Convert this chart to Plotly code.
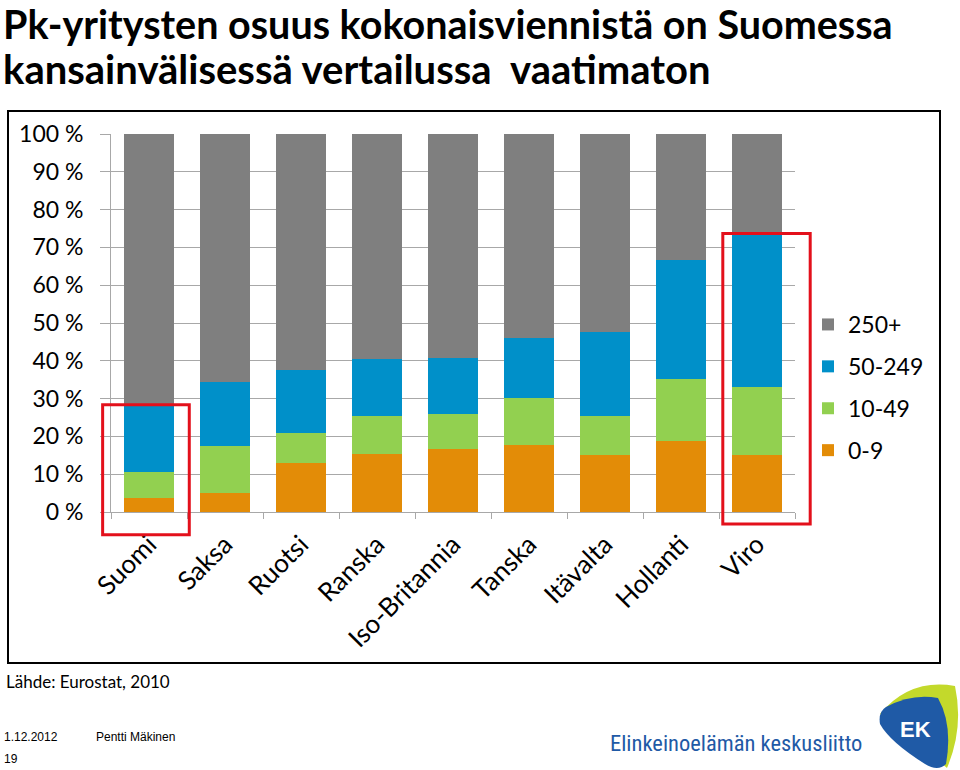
import plotly.graph_objects as go

# ---------------- data ----------------
countries = ["Suomi", "Saksa", "Ruotsi", "Ranska", "Iso-Britannia",
             "Tanska", "Itävalta", "Hollanti", "Viro"]
size_0_9 = [3.7, 4.9, 12.9, 15.4, 16.7, 17.7, 15.2, 18.7, 15.2]
size_10_49 = [6.9, 12.5, 8.1, 10.1, 9.2, 12.5, 10.3, 16.6, 18.0]
size_50_249 = [17.8, 17.1, 16.6, 15.0, 14.9, 15.9, 22.2, 31.3, 40.5]
size_250 = [71.6, 65.5, 62.4, 59.5, 59.2, 53.9, 52.3, 33.4, 26.3]
series_names = ["0-9", "10-49", "50-249", "250+"]
y_ticks = [0, 10, 20, 30, 40, 50, 60, 70, 80, 90, 100]
y_ticktext = [f"{v} %" for v in y_ticks]
highlight = ["Suomi", "Viro"]

colors = ["#e38c07", "#92d050", "#0090c9", "#7f7f7f"]
CHART_FONT = "Lato, 'Open Sans', sans-serif"

# ---------------- geometry helpers ----------------
W, H = 960, 770
PX0, PX1, PY0, PY1 = 111, 795, 134, 512  # plot area in pixels
N = len(countries)
YMAX = y_ticks[-1]


def px(x):
    return (x - PX0) / (PX1 - PX0)


def py(y):
    return (PY1 - y) / (PY1 - PY0)


def pt(x, y):
    return f"{px(x):.5f},{py(y):.5f}"


fig = go.Figure()
for k, (name, vals, col) in enumerate(zip(series_names,
                                          [size_0_9, size_10_49, size_50_249, size_250], colors)):
    fig.add_trace(go.Bar(x=countries, y=vals, name=name, marker_color=col,
                         marker_line_width=0, legendgroup=name,
                         legendrank=len(series_names) - k))

fig.update_layout(
    width=W, height=H,
    margin=dict(l=PX0, r=W - PX1, t=PY0, b=H - PY1, pad=0, autoexpand=False),
    barmode="stack", bargap=0.33,
    plot_bgcolor="white", paper_bgcolor="white",
    font=dict(family=CHART_FONT, color="#000000"),
    showlegend=True,
    legend=dict(traceorder="grouped", tracegroupgap=9,
                font=dict(size=23, family=CHART_FONT, color="#000"),
                x=px(808), xanchor="left", y=py(303), yanchor="top",
                bgcolor="rgba(0,0,0,0)", itemwidth=30),
)

fig.update_yaxes(range=[0, YMAX], tickvals=y_ticks, ticktext=y_ticktext,
                 showgrid=True, gridcolor="#a8a8a8", gridwidth=1,
                 showline=True, linecolor="#a8a8a8", linewidth=1,
                 ticks="outside", ticklen=10, tickcolor="#a8a8a8",
                 tickfont=dict(size=23, family=CHART_FONT, color="#000"),
                 ticklabelstandoff=12, zeroline=False, fixedrange=True, automargin=False)
fig.update_xaxes(range=[-0.5, N - 0.5], showgrid=False, showline=True,
                 linecolor="#a8a8a8", linewidth=1,
                 ticks="outside", tickson="boundaries", ticklen=6, tickcolor="#a8a8a8",
                 tickangle=-45, tickfont=dict(size=26, family=CHART_FONT, color="#000"),
                 ticklabelstandoff=6, fixedrange=True, automargin=False)

shapes = []
# chart frame
shapes.append(dict(type="rect", xref="paper", yref="paper",
                   x0=px(8), x1=px(940), y0=py(663), y1=py(111),
                   line=dict(color="#000", width=2), fillcolor="rgba(0,0,0,0)", layer="below"))

# red highlight boxes (paper coords derived from category index and stacked data)
for c, (dl, dr, bottom) in zip(highlight, [(-0.61, 0.53, -6.0), (-0.45, 0.70, -3.2)]):
    i = countries.index(c)
    top = size_0_9[i] + size_10_49[i] + size_50_249[i]
    shapes.append(dict(type="rect", xref="paper", yref="paper",
                       x0=(i + 0.5 + dl) / N, x1=(i + 0.5 + dr) / N,
                       y0=bottom / YMAX, y1=top / YMAX,
                       line=dict(color="#e3101b", width=3), fillcolor="rgba(0,0,0,0)"))

# EK logo
lime = (f"M {pt(880, 714)} Q {pt(910, 678)} {pt(955, 686)} "
        f"Q {pt(964, 728)} {pt(947, 768)} Q {pt(915, 740)} {pt(880, 714)} Z")
blue = (f"M {pt(886, 707)} Q {pt(912, 693)} {pt(938, 698)} "
        f"Q {pt(953, 725)} {pt(946, 764)} Q {pt(938, 772)} {pt(925, 764)} "
        f"Q {pt(890, 742)} {pt(880, 724)} Q {pt(878, 712)} {pt(886, 707)} Z")
shapes.append(dict(type="path", xref="paper", yref="paper", path=lime,
                   fillcolor="#c3d92b", line=dict(width=0)))
shapes.append(dict(type="path", xref="paper", yref="paper", path=blue,
                   fillcolor="#1f5aa6", line=dict(width=0)))
fig.update_layout(shapes=shapes)

FOOT = "'Liberation Sans', Arial, sans-serif"
annotations = [
    dict(text="<b>Pk-yritysten osuus kokonaisviennistä on Suomessa</b>", x=px(2), y=py(-1),
         yanchor="top", font=dict(size=39.5, family="Lato, sans-serif", color="#000")),
    dict(text="<b>kansainvälisessä vertailussa\u00a0 vaatimaton</b>", x=px(2), y=py(69),
         font=dict(size=40, family="Lato, sans-serif", color="#000")),
    dict(text="Lähde: Eurostat, 2010", x=px(5), y=py(681),
         font=dict(size=17, family=CHART_FONT, color="#000")),
    dict(text="1.12.2012", x=px(3), y=py(737), font=dict(size=12, family=FOOT, color="#000")),
    dict(text="Pentti Mäkinen", x=px(95), y=py(737), font=dict(size=12, family=FOOT, color="#000")),
    dict(text="19", x=px(3), y=py(759), font=dict(size=12, family=FOOT, color="#000")),
    dict(text="Elinkeinoelämän keskusliitto", x=px(609), y=py(743),
         font=dict(size=22.5, family="'Liberation Sans Narrow', 'Roboto Condensed', 'Open Sans', sans-serif",
                   color="#1f5aa6")),
    dict(text="<b>EK</b>", x=px(915), y=py(729), xanchor="center",
         font=dict(size=22, family=FOOT, color="#fff")),
]
for a in annotations:
    a.setdefault("xanchor", "left")
    a.setdefault("yanchor", "middle")
    a.update(xref="paper", yref="paper", showarrow=False, borderpad=0)
fig.update_layout(annotations=annotations)

fig.write_html("out.html", config={"displayModeBar": False},
               post_script="document.body.style.margin='0';document.body.style.overflow='hidden';")
